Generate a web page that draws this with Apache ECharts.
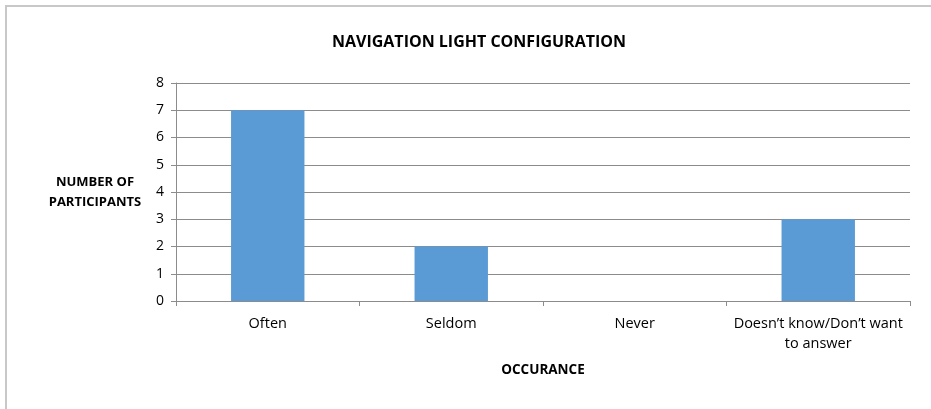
<!DOCTYPE html>
<html>
<head>
<meta charset="utf-8">
<script src="https://cdn.jsdelivr.net/npm/echarts@6/dist/echarts.min.js"></script>
<style>
  html, body { margin: 0; padding: 0; background: #fff; }
  #chart { width: 931px; height: 409px; }
</style>
</head>
<body>
<div id="chart"></div>
<script>
const categories = ["Often", "Seldom", "Never", "Doesn\u2019t know/Don\u2019t want\nto answer"];
const participants = [7, 2, 0, 3];
const yTicks = [0, 1, 2, 3, 4, 5, 6, 7, 8];

const font = "'Open Sans', 'Noto Sans', sans-serif";
const chart = echarts.init(document.getElementById("chart"));

chart.setOption({
  animation: false,
  textStyle: { fontFamily: font },
  title: {
    text: "NAVIGATION LIGHT CONFIGURATION",
    left: 474,
    textAlign: "center",
    top: 29,
    textStyle: { fontSize: 16, fontWeight: "bold", color: "#000", fontFamily: font },
  },
  graphic: [
    {
      type: "rect",
      shape: { x: 6, y: 6, width: 960, height: 440 },
      style: { fill: "none", stroke: "#c8c8c8", lineWidth: 2 },
      silent: true,
    },
  ],
  grid: { left: 176, right: 21, top: 83, bottom: 108 },
  xAxis: {
    type: "category",
    data: categories,
    name: "OCCURANCE",
    nameLocation: "middle",
    nameGap: 62,
    nameTextStyle: { fontSize: 13.5, fontWeight: "bold", color: "#000" },
    axisLine: { lineStyle: { color: "#8c8c8c" } },
    axisTick: { show: true, length: 5, lineStyle: { color: "#8c8c8c" } },
    axisLabel: { fontSize: 14.5, color: "#000", margin: 13, lineHeight: 20, interval: 0 },
  },
  yAxis: {
    type: "value",
    min: yTicks[0],
    max: yTicks[yTicks.length - 1],
    interval: 1,
    name: "NUMBER OF\nPARTICIPANTS",
    nameLocation: "middle",
    nameRotate: 0,
    nameGap: 81,
    nameTextStyle: { fontSize: 13, fontWeight: "bold", color: "#000", lineHeight: 20, align: "center" },
    axisLine: { show: true, lineStyle: { color: "#8c8c8c" } },
    axisTick: { show: true, length: 5, lineStyle: { color: "#8c8c8c" } },
    axisLabel: { fontSize: 14, color: "#000", margin: 12 },
    splitLine: { lineStyle: { color: "#8c8c8c", width: 1 } },
  },
  series: [
    {
      type: "bar",
      data: participants,
      barWidth: "40%",
      itemStyle: { color: "#5b9bd5" },
    },
  ],
});
</script>
</body>
</html>
